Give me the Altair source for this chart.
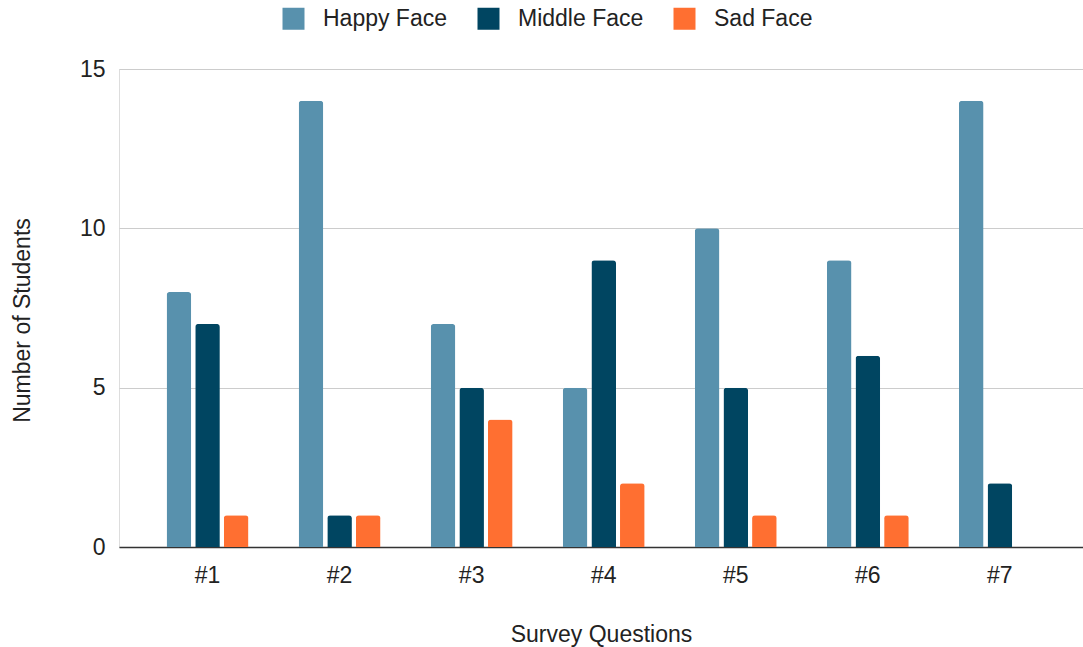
import altair as alt
import pandas as pd

questions = ["#1", "#2", "#3", "#4", "#5", "#6", "#7"]
happy = [8, 14, 7, 5, 10, 9, 14]
middle = [7, 1, 5, 9, 5, 6, 2]
sad = [1, 1, 4, 2, 1, 1, 0]
series = ["Happy Face", "Middle Face", "Sad Face"]
colors = ["#5891ad", "#004561", "#ff6f31"]

rows = []
for i, q in enumerate(questions):
    for s, vals in zip(series, [happy, middle, sad]):
        rows.append({"Question": q, "Series": s, "Value": vals[i]})
df = pd.DataFrame(rows)

FONT = "Liberation Sans"
FS = 23

chart = alt.Chart(df).mark_bar(
    cornerRadiusTopLeft=3, cornerRadiusTopRight=3
).encode(
    x=alt.X("Question:N", sort=questions,
            scale=alt.Scale(paddingInner=0.38, paddingOuter=0.34, align=0.53),
            axis=alt.Axis(title="Survey Questions", labelAngle=0, labelFontSize=FS,
                          labelPadding=17, ticks=False, domain=True,
                          domainColor="#333333", domainWidth=1.5,
                          titleFontSize=FS, titleFontWeight="normal", titlePadding=36,
                          labelColor="#222222", titleColor="#222222")),
    xOffset=alt.XOffset("Series:N", sort=series,
                        scale=alt.Scale(paddingInner=0.14, paddingOuter=0)),
    y=alt.Y("Value:Q",
            scale=alt.Scale(domain=[0, 15]),
            axis=alt.Axis(title="Number of Students", values=[0, 5, 10, 15],
                          labelFontSize=FS, labelPadding=14, ticks=False, domain=False,
                          gridColor="#cccccc", gridWidth=1.2,
                          titleFontSize=FS, titleFontWeight="normal", titlePadding=45,
                          titleY=251,
                          labelColor="#222222", titleColor="#222222")),
    color=alt.Color("Series:N", sort=series,
                    scale=alt.Scale(domain=series, range=colors),
                    legend=alt.Legend(title=None, orient="none", direction="horizontal",
                                      legendX=163, legendY=-62,
                                      symbolType="square", symbolSize=484,
                                      symbolStrokeWidth=0, labelFontSize=FS,
                                      labelOffset=18, columnPadding=29,
                                      labelColor="#222222")),
).properties(
    width=964, height=478,
    autosize="none",
    padding={"left": 119, "top": 69, "right": 0, "bottom": 100},
).configure_view(stroke=None).configure(font=FONT)

chart.save("out.html", embed_options={"renderer": "svg", "actions": False})
